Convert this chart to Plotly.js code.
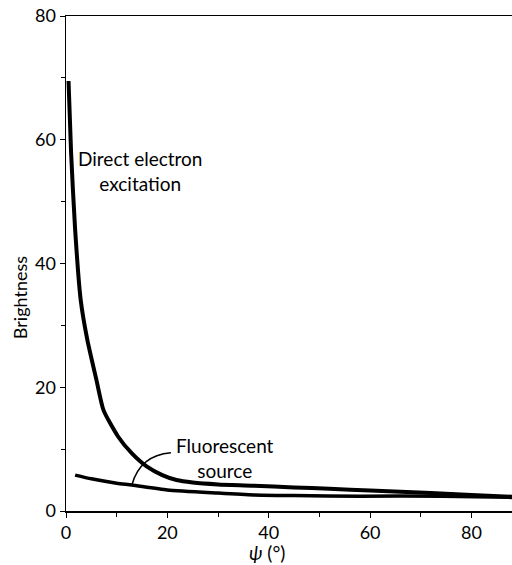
<!DOCTYPE html>
<html>
<head>
<meta charset="utf-8">
<script src="https://cdn.plot.ly/plotly-3.0.1.min.js"></script>
<style>html,body{margin:0;padding:0;background:#fff;}#chart{width:512px;height:565px;}</style>
</head>
<body>
<div id="chart"></div>
<script>
// Direct electron excitation curve
const directX = [0.5, 1.0, 1.8, 2.9, 4.2, 6.0, 7.4, 10.3, 13, 15.9, 19, 21.8, 25, 30, 37, 45, 52, 60, 72, 80, 88];
const directY = [69.5, 58, 45.5, 34.1, 27.7, 21.2, 16.3, 12.0, 9.3, 7.2, 5.8, 5.0, 4.6, 4.3, 4.1, 3.8, 3.6, 3.3, 2.9, 2.6, 2.3];
// Fluorescent source curve
const fluorX = [1.8, 5, 10, 13, 20, 30, 37, 45, 58, 74, 88];
const fluorY = [5.8, 5.2, 4.5, 4.2, 3.4, 2.9, 2.6, 2.5, 2.4, 2.4, 2.2];
// Tick values
const xTicks = [0, 20, 40, 60, 80];
const yTicks = [0, 20, 40, 60, 80];

const FONT = 'Lato, "Open Sans", sans-serif';

const traces = [
  {x: directX, y: directY, mode: 'lines', name: 'Direct electron excitation',
   line: {color: '#000', width: 4, shape: 'spline', smoothing: 0.6}},
  {x: fluorX, y: fluorY, mode: 'lines', name: 'Fluorescent source',
   line: {color: '#000', width: 3.5, shape: 'spline', smoothing: 0.6}}
];

const layout = {
  width: 512, height: 565,
  margin: {l: 66, r: 0, t: 16, b: 54},
  paper_bgcolor: '#fff', plot_bgcolor: '#fff',
  showlegend: false,
  font: {family: FONT, size: 16, color: '#000'},
  xaxis: {
    range: [0, 88], tickvals: xTicks, ticktext: xTicks.map(String),
    showgrid: false, zeroline: false, showline: true, mirror: true,
    linecolor: '#000', linewidth: 1.5,
    ticks: 'outside', ticklen: 5, tickwidth: 1, tickcolor: '#000',
    minor: {dtick: 10, ticks: 'outside', ticklen: 4, tickcolor: '#000', showgrid: false},
    tickfont: {family: FONT, size: 18}
  },
  yaxis: {
    range: [0, 80], tickvals: yTicks, ticktext: yTicks.map(String),
    showgrid: false, zeroline: false, showline: true, mirror: false,
    linecolor: '#000', linewidth: 1.5,
    ticks: 'outside', ticklen: 5, tickwidth: 1, tickcolor: '#000',
    minor: {dtick: 10, ticks: 'outside', ticklen: 4, tickcolor: '#000', showgrid: false},
    tickfont: {family: FONT, size: 18}
  },
  annotations: [
    {x: 14.6, y: 54.9, xref: 'x', yref: 'y', text: 'Direct electron<br>excitation',
     showarrow: false, font: {family: FONT, size: 19, color: '#000'}, align: 'center'},
    {x: 31.4, y: 8.6, xref: 'x', yref: 'y', text: 'Fluorescent<br>source',
     showarrow: false, font: {family: FONT, size: 19, color: '#000'}, align: 'center'},
    // axis titles
    {x: 0, y: 34.4, xref: 'paper', yref: 'y', xanchor: 'center', yanchor: 'middle',
     xshift: -46, text: 'Brightness', textangle: -90,
     showarrow: false, font: {family: FONT, size: 18, color: '#000'}},
    {x: 39.6, y: 0, xref: 'x', yref: 'paper', xanchor: 'center', yanchor: 'middle',
     yshift: -41, text: '<i>ψ</i> (°)',
     showarrow: false, font: {family: FONT, size: 19, color: '#000'}}
  ],
  shapes: [
    {type: 'path', xref: 'x', yref: 'y', path: 'M 20.7,9.4 Q 14.6,9.0 13,4.2',
     line: {color: '#000', width: 1.5}}
  ]
};

Plotly.newPlot('chart', traces, layout, {staticPlot: true, displayModeBar: false});
</script>
</body>
</html>
